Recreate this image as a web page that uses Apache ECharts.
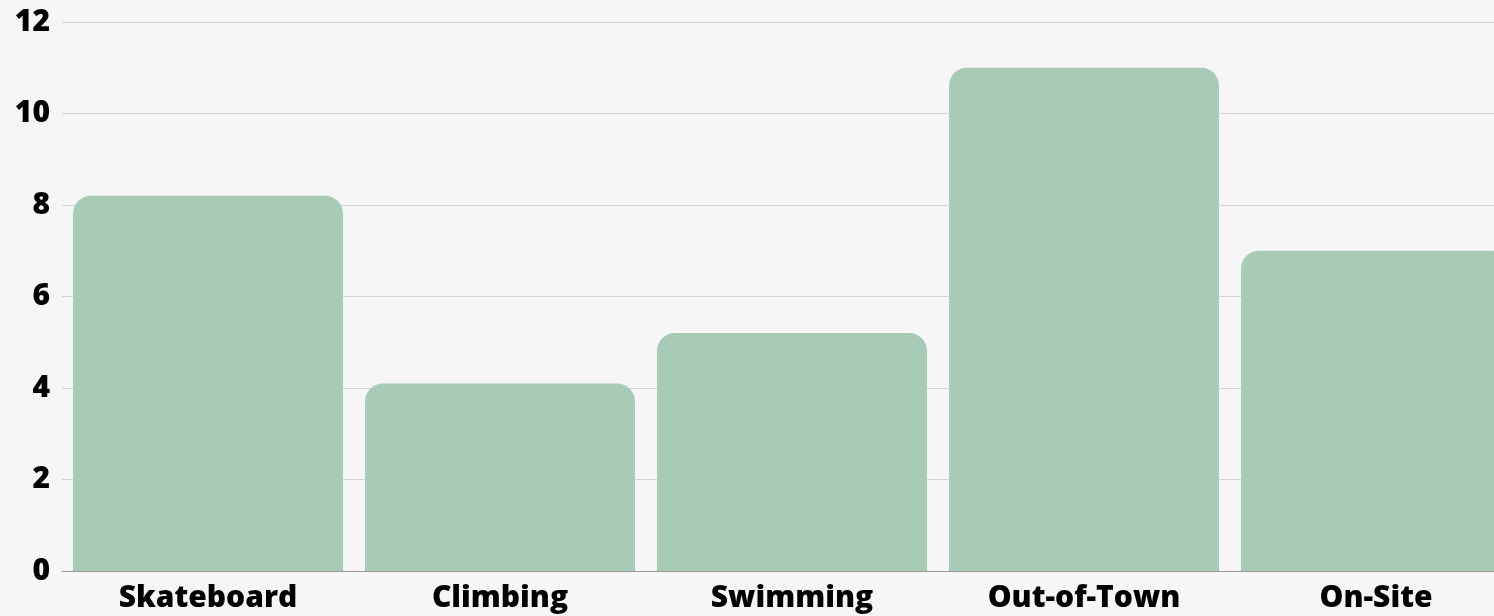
<!DOCTYPE html>
<html>
<head>
<meta charset="utf-8">
<script src="https://cdn.jsdelivr.net/npm/echarts@6/dist/echarts.min.js"></script>
<style>
  html, body { margin: 0; padding: 0; background: #f6f6f6; overflow: hidden; }
  /* chart is wider than the window so the last bar is cut off as in the reference */
  #chart { width: 1530px; height: 616px; }
</style>
</head>
<body>
<div id="chart"></div>
<script>
const categories = ['Skateboard', 'Climbing', 'Swimming', 'Out-of-Town', 'On-Site']
const values = [8.2, 4.1, 5.2, 11, 7]
const yTicks = [0, 2, 4, 6, 8, 10, 12]

const chart = echarts.init(document.getElementById('chart'))
chart.setOption({
  backgroundColor: '#f6f6f6',
  animation: false,
  textStyle: { fontFamily: 'Open Sans' },
  grid: { left: 62, right: 8, top: 22, bottom: 45 },
  xAxis: {
    type: 'category',
    data: categories,
    axisTick: { show: false },
    axisLine: { lineStyle: { color: '#999999', width: 1 } },
    axisLabel: {
      color: '#000',
      fontFamily: 'Open Sans',
      fontWeight: 900,
      fontSize: 30,
      margin: 12
    }
  },
  yAxis: {
    type: 'value',
    min: yTicks[0],
    max: yTicks[yTicks.length - 1],
    interval: 2,
    axisLine: { show: false },
    axisTick: { show: false },
    splitLine: { lineStyle: { color: '#d4d4d4', width: 1 } },
    axisLabel: {
      color: '#000',
      fontFamily: 'Open Sans',
      fontWeight: 900,
      fontSize: 30,
      margin: 12
    }
  },
  series: [{
    type: 'bar',
    data: values,
    barCategoryGap: 22,
    itemStyle: {
      color: '#a8cbb7',
      borderRadius: [18, 18, 0, 0]
    }
  }]
})
</script>
</body>
</html>
